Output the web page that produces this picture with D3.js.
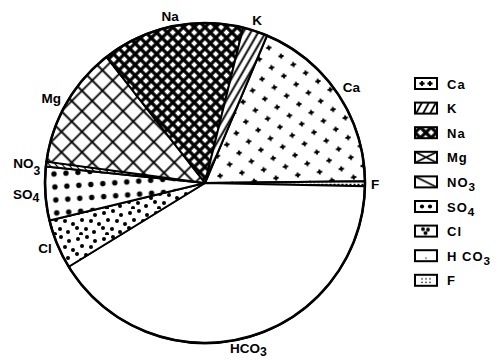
<!DOCTYPE html>
<html><head><meta charset="utf-8">
<script src="https://cdn.jsdelivr.net/npm/d3@7"></script>
<style>body{margin:0;background:#fff} svg{display:block}</style>
</head><body>
<svg id="chart" width="496" height="361"></svg>
<script>
// Ion shares (%), listed clockwise starting at the K/Ca boundary
const ions   = ["Ca", "F", "HCO3", "Cl", "SO4", "NO3", "Mg", "Na", "K"];
const shares = [18.5, 0.5, 40.9, 5.0, 5.4, 0.5, 12.3, 14.4, 2.5];
// Legend entries, top to bottom
const legendIons = ["Ca", "K", "Na", "Mg", "NO3", "SO4", "Cl", "HCO3", "F"];
// Label text: main part and subscript
const labelMain = {Ca: "Ca", F: "F", HCO3: "HCO", Cl: "Cl", SO4: "SO", NO3: "NO", Mg: "Mg", Na: "Na", K: "K"};
const labelSub  = {HCO3: "3", SO4: "4", NO3: "3"};
const legendMain = {Ca: "Ca", F: "F", HCO3: "H CO", Cl: "Cl", SO4: "SO", NO3: "NO", Mg: "Mg", Na: "Na", K: "K"};

const data = ions.map((k, i) => ({key: k, value: shares[i]}));

const svg = d3.select("#chart");
const cx = 205, cy = 183, R = 160;
const startDeg = 22.8;
const defs = svg.append("defs");

function pattern(id, w, h, transform, draw) {
  const p = defs.append("pattern").attr("id", id)
    .attr("patternUnits", "userSpaceOnUse").attr("width", w).attr("height", h);
  if (transform) p.attr("patternTransform", transform);
  p.append("rect").attr("width", w).attr("height", h).attr("fill", "#fff");
  draw(p);
}
function plus(g, x, y) {
  g.append("path").attr("d", `M${x-2.6},${y}h5.2M${x},${y-2.6}v5.2`)
    .attr("stroke", "#000").attr("stroke-width", 1.8);
  g.append("circle").attr("cx", x).attr("cy", y).attr("r", 1.7).attr("fill", "#000");
}

// Slice fills
pattern("p-Ca", 22, 20, "rotate(-8)", p => { plus(p, 5, 5); plus(p, 16, 15); });
pattern("p-K", 6.5, 6.5, "rotate(30)", p => p.append("path").attr("d", "M3.25,0v6.5").attr("stroke", "#000").attr("stroke-width", 1.9));
pattern("p-Na", 7.6, 7.6, "rotate(45)", p => p.append("path").attr("d", "M0,3.8h7.6M3.8,0v7.6").attr("stroke", "#000").attr("stroke-width", 3.2));
pattern("p-Mg", 14.5, 14.5, "rotate(45)", p => p.append("path").attr("d", "M0,7.25h14.5M7.25,0v14.5").attr("stroke", "#000").attr("stroke-width", 1.8));
pattern("p-NO3", 5, 5, "rotate(-40)", p => p.append("path").attr("d", "M2.5,0v5").attr("stroke", "#000").attr("stroke-width", 1.2));
pattern("p-SO4", 12, 13, "rotate(-4)", p => p.append("circle").attr("cx", 6).attr("cy", 6.5).attr("r", 2.7).attr("fill", "#000"));
pattern("p-Cl", 26, 26, null, p => {
  [[3,4],[12,2],[20,6],[7,11],[16,12],[24,15],[2,19],[11,20],[19,23],[6,25]]
    .forEach(([x, y]) => p.append("circle").attr("cx", x).attr("cy", y).attr("r", 2).attr("fill", "#000"));
});
pattern("p-HCO3", 10, 10, null, () => {});
pattern("p-F", 4, 3, null, p => p.append("rect").attr("x", 0.5).attr("y", 0.8).attr("width", 2).attr("height", 1.4).attr("fill", "#000"));

// Legend swatch fills (tile = one swatch)
const SW = 22, SH = 11;
pattern("l-Ca", SW, SH, null, p => { plus(p, 7, 5.5); plus(p, 15, 5.5); });
pattern("l-K", SW, SH, null, p => p.append("path").attr("d", "M1,11L7,0M8,11L14,0M15,11L21,0").attr("stroke", "#000").attr("stroke-width", 1.8));
pattern("l-Mg", SW, SH, null, p => p.append("path").attr("d", "M0,0L22,11M0,11L22,0").attr("stroke", "#000").attr("stroke-width", 1.6));
pattern("l-NO3", SW, SH, null, p => p.append("path").attr("d", "M0,0L22,11").attr("stroke", "#000").attr("stroke-width", 1.6));
pattern("l-SO4", SW, SH, null, p => { [7, 15].forEach(x => p.append("circle").attr("cx", x).attr("cy", 5.5).attr("r", 2.1).attr("fill", "#000")); });
pattern("l-Cl", SW, SH, null, p => { [[8,3.5,1.9],[13,4,1.9],[10.5,7.5,2]].forEach(([x,y,r]) => p.append("circle").attr("cx", x).attr("cy", y).attr("r", r).attr("fill", "#000")); });
pattern("l-HCO3", SW, SH, null, p => p.append("circle").attr("cx", 11).attr("cy", 8).attr("r", 0.7).attr("fill", "#000"));
pattern("l-F", SW, SH, null, p => { [[7,4],[11,4],[15,4],[7,7.5],[11,7.5],[15,7.5]].forEach(([x,y]) => p.append("circle").attr("cx", x).attr("cy", y).attr("r", 0.8).attr("fill", "#000")); });
const legendFill = {Ca: "l-Ca", K: "l-K", Na: "p-Na", Mg: "l-Mg", NO3: "l-NO3", SO4: "l-SO4", Cl: "l-Cl", HCO3: "l-HCO3", F: "l-F"};

const a0 = startDeg * Math.PI / 180;
const pie = d3.pie().sort(null).value(d => d.value).startAngle(a0).endAngle(a0 + 2 * Math.PI);
const arc = d3.arc().innerRadius(0).outerRadius(R);
const arcs = pie(data);

const g = svg.append("g").attr("transform", `translate(${cx},${cy})`);
g.selectAll("path.slice").data(arcs).join("path")
  .attr("class", "slice")
  .attr("d", arc)
  .attr("fill", d => `url(#p-${d.data.key})`)
  .attr("stroke", "#000").attr("stroke-width", 2).attr("stroke-linejoin", "round");
g.append("circle").attr("r", R).attr("fill", "none").attr("stroke", "#000").attr("stroke-width", 2.6);

// Slice labels just outside the rim; sides anchor away from the pie
const LR = 166;
function writeLabel(sel, main, sub, subDy) {
  sel.append("tspan").text(main);
  if (sub) sel.append("tspan").attr("dy", subDy).attr("font-size", "0.9em").text(sub);
}
g.selectAll("text.lbl").data(arcs).join("text")
  .attr("class", "lbl")
  .each(function(d) {
    const a = (d.startAngle + d.endAngle) / 2, s = Math.sin(a), c = Math.cos(a);
    d3.select(this)
      .attr("x", LR * s)
      .attr("y", -LR * c - 5 * c)
      .attr("text-anchor", s > 0.5 ? "start" : s < -0.5 ? "end" : "middle");
  })
  .attr("dy", "0.35em")
  .attr("font-family", "Liberation Sans, Arial, sans-serif").attr("font-weight", "bold").attr("font-size", 13.5)
  .each(function(d) { writeLabel(d3.select(this), labelMain[d.data.key], labelSub[d.data.key], d.data.key === "NO3" ? 7 : 3); });

// Legend
const lg = svg.append("g").attr("transform", "translate(415,78)");
const row = lg.selectAll("g").data(legendIons).join("g")
  .attr("transform", (d, i) => `translate(0,${i * 24.6})`);
row.append("rect").attr("width", SW).attr("height", SH)
  .attr("fill", d => `url(#${legendFill[d]})`)
  .attr("stroke", "#000").attr("stroke-width", 2);
row.append("text").attr("x", 32).attr("y", 10.5)
  .attr("font-family", "Liberation Sans, Arial, sans-serif").attr("font-weight", "bold").attr("font-size", 13)
  .attr("letter-spacing", 1)
  .each(function(d) { writeLabel(d3.select(this), legendMain[d], labelSub[d], 4); });
</script>
</body></html>
